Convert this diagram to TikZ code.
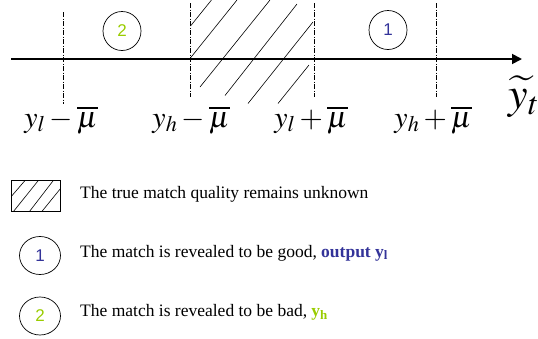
\documentclass[tikz,border=0pt]{standalone}
\usepackage{mathptmx}
\usepackage{fontspec}
\setmainfont{Liberation Serif}
\newfontfamily\arialf{Liberation Sans}
\usetikzlibrary{arrows.meta}
\definecolor{myblue}{HTML}{333399}
\definecolor{mygreen}{HTML}{99CC00}
\tikzset{
  dashdot/.style={line width=0.6pt, dash pattern=on 5pt off 1.6pt on 0.8pt off 1.6pt},
  hatchline/.style={line width=0.6pt},
  mlabel/.style={anchor=base, inner sep=0pt, font=\fontsize{30}{32}\selectfont},
  legtext/.style={anchor=base west, inner sep=0pt, font=\fontsize{17.5}{19}\selectfont},
  digit/.style={inner sep=0pt, font=\arialf\fontsize{17}{18}\selectfont}
}
\begin{document}
\begin{tikzpicture}[x=1pt,y=-1pt]
\useasboundingbox (0,0) rectangle (538,338);
% axis
\coordinate (axs) at (11,59);
\coordinate (axe) at (522,59);
\draw[line width=1.8pt, -{Triangle[length=10pt,width=10pt]}] (axs) -- (axe);
% vertical dash-dot lines
\coordinate (v1t) at (63,12);  \coordinate (v1b) at (63,104);
\coordinate (v2t) at (190,3);  \coordinate (v2b) at (190,97);
\coordinate (v3t) at (314,3);  \coordinate (v3b) at (314,97);
\coordinate (v4t) at (436,3);  \coordinate (v4b) at (436,97);
\draw[dashdot] (v1t) -- (v1b);
\draw[dashdot] (v2t) -- (v2b);
\draw[dashdot] (v3t) -- (v3b);
\draw[dashdot] (v4t) -- (v4b);
% hatch lines
\draw[hatchline] (190.5,26) -- (211.5,0);
\draw[hatchline] (190,58.5) -- (237,0);
\draw[hatchline] (200,87) -- (270,0);
\draw[hatchline] (225,95.5) -- (297,4);
\draw[hatchline] (248,103.5) -- (313,22);
\draw[hatchline] (278,103.5) -- (309,65);
% circles on the axis
\draw[line width=0.7pt] (122,31) ellipse [x radius=19, y radius=19.5];
\node[digit, text=mygreen] (c2) at (122,31) {2};
\draw[line width=0.7pt] (388,30) ellipse [x radius=19, y radius=19.5];
\node[digit, text=myblue] (c1) at (388,30) {1};
% labels
\node[mlabel] (l1) at (61,127) {$y_l-\overline{\mu}$};
\node[mlabel] (l2) at (191,127) {$y_h-\overline{\mu}$};
\node[mlabel] (l3) at (311,127) {$y_l+\overline{\mu}$};
\node[mlabel] (l4) at (433,127) {$y_h+\overline{\mu}$};
\node[anchor=base, inner sep=0pt, font=\fontsize{44}{46}\selectfont] (yt) at (524,108) {$\widetilde{y}_t$};
% legend
\draw[line width=0.7pt] (11.7,180.5) rectangle (60.7,211.7);
\draw[hatchline] (11.7,196) -- (25,180.5);
\draw[hatchline] (13.3,211.7) -- (38.3,180.5);
\draw[hatchline] (29.3,211.7) -- (53.3,180.5);
\draw[hatchline] (41.7,211.7) -- (60.7,188.3);
\node[legtext] (t1) at (80,198) {The true match quality remains unknown};
\draw[line width=0.7pt] (40,255.5) ellipse [x radius=20.5, y radius=19];
\node[digit, text=myblue] (d1) at (40,255.5) {1};
\node[legtext] (t2) at (80,257) {The match is revealed to be good, \textcolor{myblue}{\textbf{output y\textsubscript{l}}}};
\draw[line width=0.7pt] (40,316) ellipse [x radius=20.5, y radius=19];
\node[digit, text=mygreen] (d2) at (40,316) {2};
\node[legtext] (t3) at (80,316.5) {The match is revealed to be bad, \textcolor{mygreen}{\textbf{y\textsubscript{h}}}};
\end{tikzpicture}
\end{document}
